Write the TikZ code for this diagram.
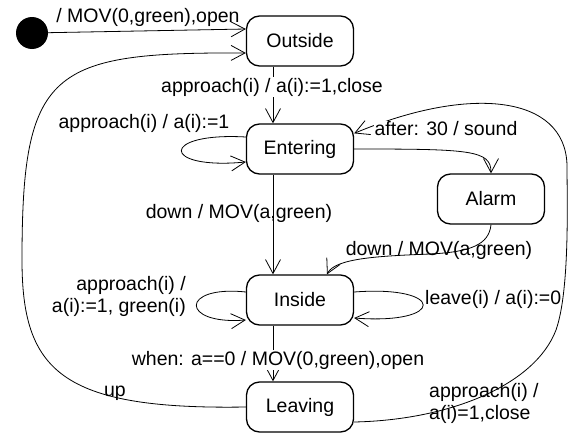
\documentclass[tikz,border=0pt]{standalone}
\usepackage{fontspec}
\setmainfont{Liberation Sans}
\usetikzlibrary{arrows.meta}

\begin{document}
\begin{tikzpicture}[x=1pt,y=-1pt,
  font=\fontsize{19.5}{22}\selectfont,
  state/.style={draw,line width=1.3pt,rounded corners=13pt,
    minimum width=107pt,minimum height=50pt,inner sep=0pt},
  trans/.style={line width=0.8pt,-{Straight Barb[length=14pt,width=15pt]}},
  lbl/.style={inner sep=1pt},
  lblw/.style={lbl,fill=white}]

  \useasboundingbox (0,0) rectangle (570,434);

  \newcommand\DX{-27pt}

  %% states
  \node[circle,fill=black,minimum size=32pt,inner sep=0pt] (init) at (32,33) {};
  \node[state] (outside)  at (300,41)  {Outside};
  \node[state] (entering) at (300,149) {Entering};
  \node[state] (alarm)    at (491,199) {Alarm};
  \node[state] (inside)   at (300,300) {Inside};
  \node[state] (leaving)  at (300,407) {Leaving};

  %% transitions
  \draw[trans] (init) -- ([yshift=12pt]outside.west); %% init - outside

  \draw[trans] (leaving.west) .. controls (60,410) and (22,370) .. (22,260)
  .. controls (22,70) and (50,52) .. ([yshift=-12pt]outside.west); %% leaving - outside

  \draw[trans] ([xshift=\DX]outside.south) -- ([xshift=\DX]entering.north); %% outside - entering

  \draw[trans] ([yshift=12pt]entering.west) .. controls (160,132) and (160,170)
  .. ([yshift=-13pt]entering.west); %% entering - entering

  \draw[trans] ([yshift=-15pt]leaving.east) .. controls (450,420) and (535,385) .. (556,330)
  .. controls (570,290) and (567,200) .. (567,165)
  .. controls (565,95) and (470,85) .. ([yshift=-10pt]entering.north east); %% leaving - entering

  \draw[trans] (entering.east) .. controls (470,149) and (491,150) .. (alarm.north); %% entering - alarm

  \draw[trans] ([xshift=\DX]entering.south) -- ([xshift=\DX]inside.north); %% entering - inside

  \draw[trans] (alarm.south) .. controls (489,245) and (470,252) .. (430,254)
  .. controls (380,256) and (335,258) .. ([xshift=27pt]inside.north); %% alarm - inside

  \draw[trans] ([yshift=8pt]inside.west) .. controls (180,285) and (180,325)
  .. ([yshift=-20pt]inside.west); %% inside - inside (left)

  \draw[trans] ([yshift=8pt]inside.east) .. controls (446,285) and (446,325)
  .. ([yshift=-18pt]inside.east); %% inside - inside (right)

  \draw[trans] ([xshift=\DX]inside.south) -- ([xshift=\DX]leaving.north); %% inside - leaving

  %% labels
  \node[lbl]  (lInit)   at (148,17)  {/ MOV(0,green),open};
  \node[lblw] (lOutEnt) at (272,87)  {approach(i) / a(i):=1,close};
  \node[lbl]  (lEntEnt) at (144,123) {approach(i) / a(i):=1};
  \node[lblw] (lAfter)  at (446,129) {after: 30 / sound};
  \node[lbl]  (lEntIns) at (239,213) {down / MOV(a,green)};
  \node[lbl]  (lAlaIns) at (439,250) {down / MOV(a,green)};
  \node[lbl,anchor=east,align=right] (lInsL) at (187,296) {approach(i) /\\a(i):=1, green(i)};
  \node[lbl,anchor=west] (lInsR) at (424,299) {leave(i) / a(i):=0};
  \node[lblw] (lWhen)   at (278,360) {when: a==0 / MOV(0,green),open};
  \node[lbl]  (lUp)     at (115,393) {up};
  \node[lbl,anchor=west,align=left] (lLeaEnt) at (428,403) {approach(i) /\\a(i)=1,close};

\end{tikzpicture}
\end{document}
